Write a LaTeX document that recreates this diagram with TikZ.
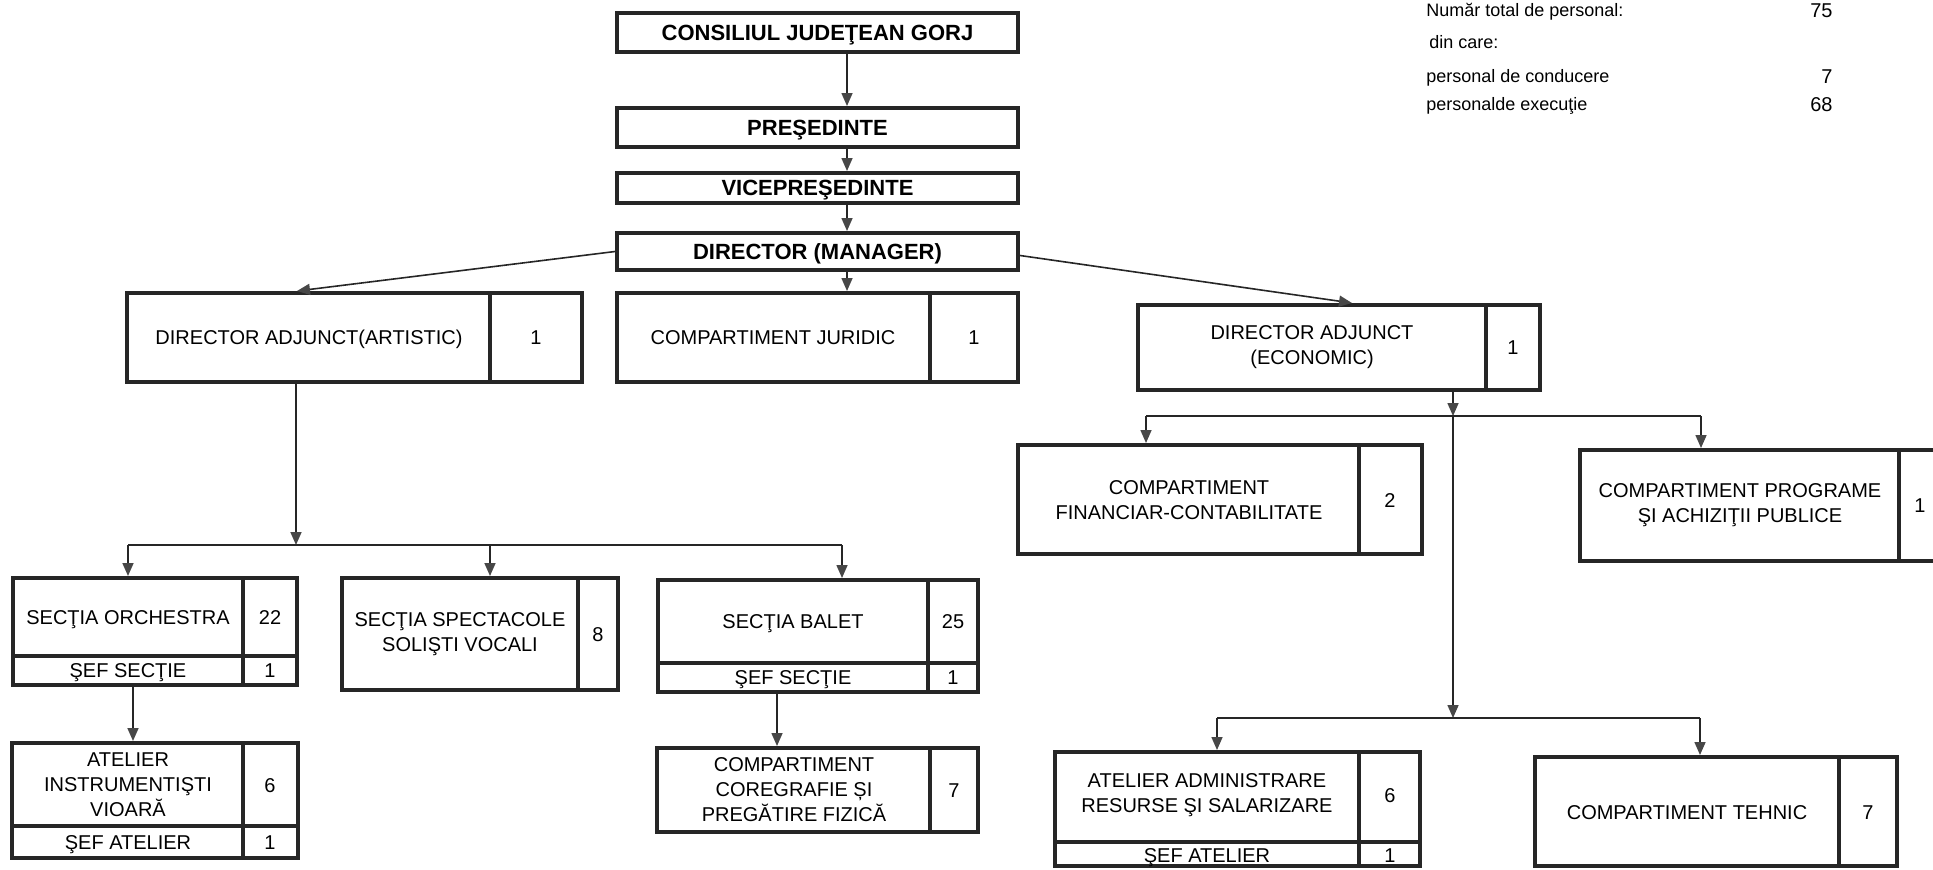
\documentclass[tikz,border=0pt]{standalone}
\usepackage{fontspec}
\setmainfont{Liberation Sans}
\usetikzlibrary{arrows.meta,fit,calc}
\begin{document}
\begin{tikzpicture}[x=0.5pt,y=-0.5pt,
  box/.style={draw=black!85, line width=2pt, inner sep=0pt},
  div/.style={draw=black!85, line width=1.6pt},
  title/.style={font=\fontsize{11}{13}\selectfont\bfseries, inner sep=0pt, text height=7.9pt, text depth=0pt},
  txt/.style={font=\fontsize{10}{12.5}\selectfont, align=center, inner sep=0pt},
  one/.style={font=\fontsize{10}{12.5}\selectfont, inner sep=0pt, text height=7.2pt, text depth=0pt},
  num/.style={font=\fontsize{10}{12}\selectfont, inner sep=0pt, text height=7.2pt, text depth=0pt},
  leg/.style={font=\fontsize{9}{11}\selectfont, inner sep=0pt},
  lnum/.style={font=\fontsize{10}{12}\selectfont, inner sep=0pt},
  conn/.style={draw=black!85, line width=0.8pt},
  arr/.style={conn, -{Triangle[length=6.5pt,width=5.5pt,color=black!72]}},
]
\useasboundingbox (0,0) rectangle (1933,869);

% ---------- legend ----------
\node[leg, anchor=base west] (l1) at (1426,16.5) {Număr total de personal:};
\node[lnum, anchor=base east] (n1) at (1833,17) {75};
\node[leg, anchor=base west] (l2) at (1429,48.5) {din care:};
\node[leg, anchor=base west] (l3) at (1426,82.5) {personal de conducere};
\node[lnum, anchor=base east] (n3) at (1833,83) {7};
\node[leg, anchor=base west] (l4) at (1426,110.5) {personalde execuţie};
\node[lnum, anchor=base east] (n4) at (1833,111) {68};

% ---------- top chain ----------
\node[box, fit={(617,13) (1018,52)}] (cj) {};
\node[title] (cjT) at (cj.center) {CONSILIUL JUDEŢEAN GORJ};
\node[box, fit={(617,108) (1018,147)}] (pres) {};
\node[title] (presT) at (pres.center) {PREŞEDINTE};
\node[box, fit={(617,173) (1018,203)}] (vice) {};
\node[title] (viceT) at (vice.center) {VICEPREŞEDINTE};
\node[box, fit={(617,233) (1018,270)}] (dir) {};
\node[title] (dirT) at (dir.center) {DIRECTOR (MANAGER)};

% ---------- second row ----------
\node[box, fit={(127,293) (582,382)}] (art) {};
\draw[div] (490,293) -- (490,382);
\node[one] (artT) at (309,337) {DIRECTOR ADJUNCT(ARTISTIC)};
\node[num] (artN) at (536,337) {1};

\node[box, fit={(617,293) (1018,382)}] (jur) {};
\draw[div] (930,293) -- (930,382);
\node[one] (jurT) at (773,337) {COMPARTIMENT JURIDIC};
\node[num] (jurN) at (974,337) {1};

\node[box, fit={(1138,305) (1540,390)}] (eco) {};
\draw[div] (1486,305) -- (1486,390);
\node[txt] (ecoT) at (1312,347) {DIRECTOR ADJUNCT\\(ECONOMIC)};
\node[num] (ecoN) at (1513,347) {1};

% ---------- economic children ----------
\node[box, fit={(1018,445) (1422,554)}] (fin) {};
\draw[div] (1359,445) -- (1359,554);
\node[txt] (finT) at (1189,500) {COMPARTIMENT\\FINANCIAR-CONTABILITATE};
\node[num] (finN) at (1390,500) {2};

\node[box, fit={(1580,450) (1960,561)}] (prog) {};
\draw[div] (1899,450) -- (1899,561);
\node[txt] (progT) at (1740,505) {COMPARTIMENT PROGRAME\\ŞI ACHIZIŢII PUBLICE};
\node[num] (progN) at (1920,505) {1};

\node[box, fit={(1055,752) (1420,866)}] (adm) {};
\draw[div] (1359,752) -- (1359,866);
\draw[div] (1055,842) -- (1420,842);
\node[txt] (admT) at (1207,795) {ATELIER ADMINISTRARE\\RESURSE ŞI SALARIZARE};
\node[num] (admN) at (1390,795) {6};
\node[one] (admS) at (1207,855) {ŞEF ATELIER};
\node[num] (admSN) at (1390,855) {1};

\node[box, fit={(1535,757) (1897,866)}] (teh) {};
\draw[div] (1839,757) -- (1839,866);
\node[one] (tehT) at (1687,812) {COMPARTIMENT TEHNIC};
\node[num] (tehN) at (1868,812) {7};

% ---------- artistic children ----------
\node[box, fit={(13,578) (297,685)}] (orch) {};
\draw[div] (243,578) -- (243,685);
\draw[div] (13,656) -- (297,656);
\node[one] (orchT) at (128,617) {SECŢIA ORCHESTRA};
\node[num] (orchN) at (270,617) {22};
\node[one] (orchS) at (128,670.5) {ŞEF SECŢIE};
\node[num] (orchSN) at (270,670.5) {1};

\node[box, fit={(342,578) (618,690)}] (spec) {};
\draw[div] (578,578) -- (578,690);
\node[txt] (specT) at (460,634) {SECŢIA SPECTACOLE\\SOLIŞTI VOCALI};
\node[num] (specN) at (598,634) {8};

\node[box, fit={(658,580) (978,692)}] (bal) {};
\draw[div] (928,580) -- (928,692);
\draw[div] (658,663) -- (978,663);
\node[one] (balT) at (793,621) {SECŢIA BALET};
\node[num] (balN) at (953,621) {25};
\node[one] (balS) at (793,677.5) {ŞEF SECŢIE};
\node[num] (balSN) at (953,677.5) {1};

\node[box, fit={(12,743) (298,858)}] (atel) {};
\draw[div] (243,743) -- (243,858);
\draw[div] (12,826) -- (298,826);
\node[txt] (atelT) at (128,785) {ATELIER\\INSTRUMENTIŞTI\\VIOARĂ};
\node[num] (atelN) at (270,785) {6};
\node[one] (atelS) at (128,842) {ŞEF ATELIER};
\node[num] (atelSN) at (270,842) {1};

\node[box, fit={(657,748) (978,832)}] (cor) {};
\draw[div] (930,748) -- (930,832);
\node[txt] (corT) at (794,790) {COMPARTIMENT\\COREGRAFIE ȘI\\PREGĂTIRE FIZICĂ};
\node[num] (corN) at (954,790) {7};

% ---------- connectors ----------
\coordinate (ax) at (847,0);
\draw[arr] (cj.south -| ax) -- (pres.north -| ax);
\draw[arr] (pres.south -| ax) -- (vice.north -| ax);
\draw[arr] (vice.south -| ax) -- (dir.north -| ax);
\draw[arr] (dir.south -| ax) -- (jur.north -| ax);

\coordinate (xa) at (297,0);
\coordinate (xe) at (1352,0);
\draw[arr] (dir.west) -- (art.north -| xa);
\draw[arr] ($(dir.east)+(0,4)$) -- (eco.north -| xe);

% artistic branch
\coordinate (xart) at (296,0);
\coordinate (jA) at (296,545);
\coordinate (bA1) at (128,545);
\coordinate (bA2) at (490,545);
\coordinate (bA3) at (842,545);
\draw[arr] (art.south -| xart) -- (jA);
\draw[conn] (bA1) -- (bA3);
\draw[arr] (bA1) -- (orch.north -| bA1);
\draw[arr] (bA2) -- (spec.north -| bA2);
\draw[arr] (bA3) -- (bal.north -| bA3);

\coordinate (xo) at (133,0);
\coordinate (xb) at (777,0);
\draw[arr] (orch.south -| xo) -- (atel.north -| xo);
\draw[arr] (bal.south -| xb) -- (cor.north -| xb);

% economic branch
\coordinate (xec) at (1453,0);
\coordinate (jE1) at (1453,416);
\coordinate (jE2) at (1453,718);
\coordinate (e1L) at (1146,416);
\coordinate (e1R) at (1701,416);
\coordinate (e2L) at (1217,718);
\coordinate (e2R) at (1700,718);
\draw[arr] (eco.south -| xec) -- (jE1);
\draw[arr] (jE1) -- (jE2);
\draw[conn] (e1L) -- (e1R);
\draw[arr] (e1L) -- (fin.north -| e1L);
\draw[arr] (e1R) -- (prog.north -| e1R);
\draw[conn] (e2L) -- (e2R);
\draw[arr] (e2L) -- (adm.north -| e2L);
\draw[arr] (e2R) -- (teh.north -| e2R);
\end{tikzpicture}
\end{document}
